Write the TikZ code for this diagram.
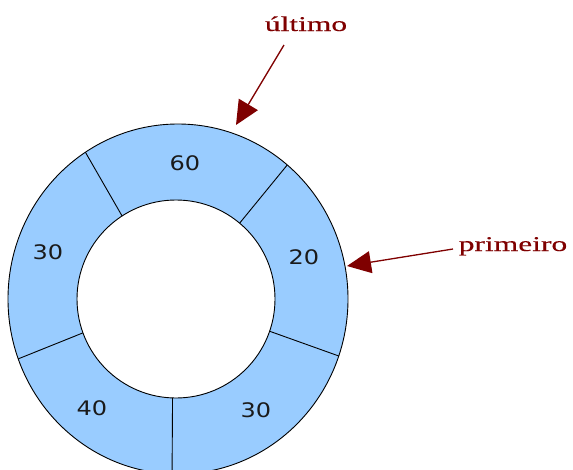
\documentclass[tikz,border=0pt]{standalone}
\usepackage{fontspec}
\usetikzlibrary{arrows.meta,calc}
\newfontfamily\numfont[FakeStretch=1.2]{DejaVu Sans}
\newfontfamily\lblfont[FakeStretch=1.5,FakeBold=0.3]{Liberation Serif}
\definecolor{ringblue}{HTML}{99CCFF}
\definecolor{darkred}{HTML}{7F0000}
\definecolor{numgray}{HTML}{1A1A1A}
\tikzset{
  ringline/.style={draw=black,line width=0.9pt},
  numlbl/.style={font=\numfont\fontsize{20}{24}\selectfont,text=numgray,inner sep=0pt},
  ptrlbl/.style={font=\lblfont\fontsize{21}{24}\selectfont,text=darkred,inner sep=0pt,anchor=base},
  ptrarrow/.style={draw=darkred,line width=1.3pt,-{Triangle[length=24pt,width=22pt]}}
}
\begin{document}
\begin{tikzpicture}[x=1pt,y=-1pt]
\useasboundingbox (0,0) rectangle (573,469);
\begin{scope}
\clip (0,0) rectangle (573,469);
\coordinate (co) at (178,299);
\coordinate (ci) at (176,299);
% ring fill
\fill[ringblue,even odd rule] (co) ellipse [x radius=170pt,y radius=175pt]
  (ci) ellipse [x radius=99pt,y radius=99pt];
\draw[ringline] (co) ellipse [x radius=170pt,y radius=175pt];
\draw[ringline] (ci) ellipse [x radius=99pt,y radius=99pt];
% dividers (angles measured counter-clockwise from east)
\foreach \a/\n in {123/a,50/b,-19/c,-92/d,200/e}{
  \coordinate (o\n) at ($(co)+(-\a:170 and 175)$);
  \coordinate (i\n) at ($(ci)+(-\a:99 and 99)$);
  \draw[ringline] (i\n) -- (o\n);
}
\end{scope}
% values
\node[numlbl] (v60) at (185,163) {60};
\node[numlbl] (v20) at (304,257) {20};
\node[numlbl] (v30a) at (48,252) {30};
\node[numlbl] (v40) at (92,408) {40};
\node[numlbl] (v30b) at (256,410) {30};
% pointers
\node[ptrlbl] (ult) at (306,31) {último};
\node[ptrlbl] (pri) at (513,251) {primeiro};
\coordinate (ultfrom) at (284,45);
\coordinate (ultto) at (236,125);
\coordinate (prifrom) at (453,249);
\coordinate (prito) at (347,266);
\draw[ptrarrow] (ultfrom) -- (ultto);
\draw[ptrarrow] (prifrom) -- (prito);
\end{tikzpicture}
\end{document}
